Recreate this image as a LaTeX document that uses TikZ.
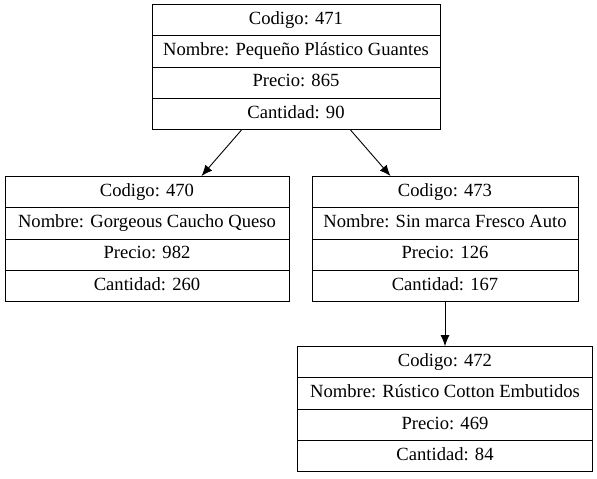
\documentclass[tikz,border=0pt]{standalone}
\usepackage{fontspec}
\setmainfont{Liberation Serif}
\usetikzlibrary{positioning, shapes.multipart, arrows.meta}
\tikzset{
    registro/.style={rectangle split, rectangle split parts=4, draw=black, line width=0.9pt, inner xsep=0pt, inner ysep=6pt, font=\fontsize{18.6}{22}\selectfont},
    flecha/.style={-{Latex[length=11pt,width=9pt]}, line width=0.9pt},
}
\newcommand{\campo}[1]{\rule[-5pt]{0pt}{18.4pt}#1}

\begin{document}
\begin{tikzpicture}
                        \useasboundingbox (0,0) rectangle (597pt,-479pt);
                        \node [registro, minimum width=288pt] (n471) at (296pt,-67pt)
                            {\campo{Codigo: 471} \nodepart{two} \campo{Nombre: Pequeño Plástico Guantes}
                             \nodepart{three} \campo{Precio: 865} \nodepart{four} \campo{Cantidad: 90}};
                        \node [registro, minimum width=284pt] (n470) [below=46pt of n471, xshift=-149pt]
                            {\campo{Codigo: 470} \nodepart{two} \campo{Nombre: Gorgeous Caucho Queso}
                             \nodepart{three} \campo{Precio: 982} \nodepart{four} \campo{Cantidad: 260}};
                        \node [registro, minimum width=266pt] (n473) [below=46pt of n471, xshift=149pt]
                            {\campo{Codigo: 473} \nodepart{two} \campo{Nombre: Sin marca Fresco Auto}
                             \nodepart{three} \campo{Precio: 126} \nodepart{four} \campo{Cantidad: 167}};
                        \node [registro, minimum width=295pt] (n472) [below=44pt of n473]
                            {\campo{Codigo: 472} \nodepart{two} \campo{Nombre: Rústico Cotton Embutidos}
                             \nodepart{three} \campo{Precio: 469} \nodepart{four} \campo{Cantidad: 84}};
                        \draw[flecha] (n471) -- (n470);
                        \draw[flecha] (n471) -- (n473);
                        \draw[flecha] (n473) -- (n472);
                    \end{tikzpicture}
\end{document}
